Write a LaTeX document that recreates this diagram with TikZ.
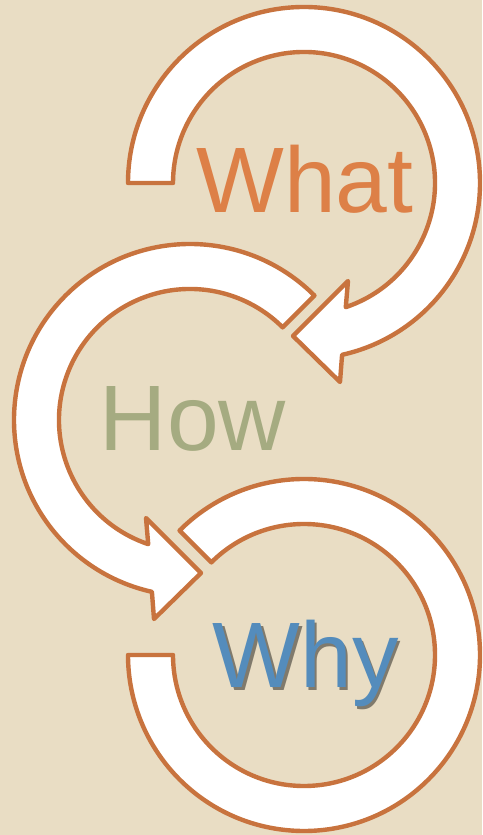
\documentclass[tikz,border=0pt]{standalone}
\usepackage{fontspec}
\setmainfont{Liberation Sans}
\usetikzlibrary{calc}
\definecolor{bgbeige}{RGB}{233,221,196}
\definecolor{bandline}{RGB}{200,115,62}
\definecolor{whatcol}{RGB}{221,128,71}
\definecolor{howcol}{RGB}{165,171,129}
\definecolor{whycol}{RGB}{84,140,188}
\colorlet{whyshade}{bgbeige!55!black}
\tikzset{
  arrowband/.style={draw=bandline, fill=white, line width=4.4pt, line join=round},
  bigword/.style={inner sep=0pt, anchor=base, font=\fontsize{93}{93}\selectfont}
}
\begin{document}
\begin{tikzpicture}[x=1pt,y=1pt]
\fill[bgbeige] (0,0) rectangle (482,835);
\useasboundingbox (0,0) rectangle (482,835);
\coordinate (C1) at (304,652);
\coordinate (C2) at (190,415);
\coordinate (C3) at (304,180);
% top arrow (What)
\draw[arrowband] ($(C1)+(180:131)$) -- ($(C1)+(180:176)$)
  arc[start angle=180,end angle=-77.5,radius=176]
  -- ($(C1)+(36,-199)$) -- ($(C1)+(-11,-153)$) -- ($(C1)+(44,-98)$)
  -- ($(C1)+(-71.4:131)$)
  arc[start angle=-71.4,end angle=180,radius=131] -- cycle;
% middle arrow (How)
\draw[arrowband] ($(C2)+(45:131)$) -- ($(C2)+(45:176)$)
  arc[start angle=45,end angle=257.5,radius=176]
  -- ($(C2)+(-36,-199)$) -- ($(C2)+(11,-153)$) -- ($(C2)+(-44,-98)$)
  -- ($(C2)+(251.4:131)$)
  arc[start angle=251.4,end angle=45,radius=131] -- cycle;
% bottom band (Why)
\draw[arrowband] ($(C3)+(135:131)$) -- ($(C3)+(135:176)$)
  arc[start angle=135,end angle=-180,radius=176]
  -- ($(C3)+(-180:131)$)
  arc[start angle=-180,end angle=135,radius=131] -- cycle;
% words
\node[bigword, text=whatcol] (what) at (305,622) {What};
\node[bigword, text=howcol] (how) at (193,384) {How};
\node[bigword] (why) at (305.5,147)
  {\makebox[0pt][l]{\hspace{2.5pt}\raisebox{-2.5pt}{\color{whyshade}Why}}\color{whycol}Why};
\end{tikzpicture}
\end{document}
